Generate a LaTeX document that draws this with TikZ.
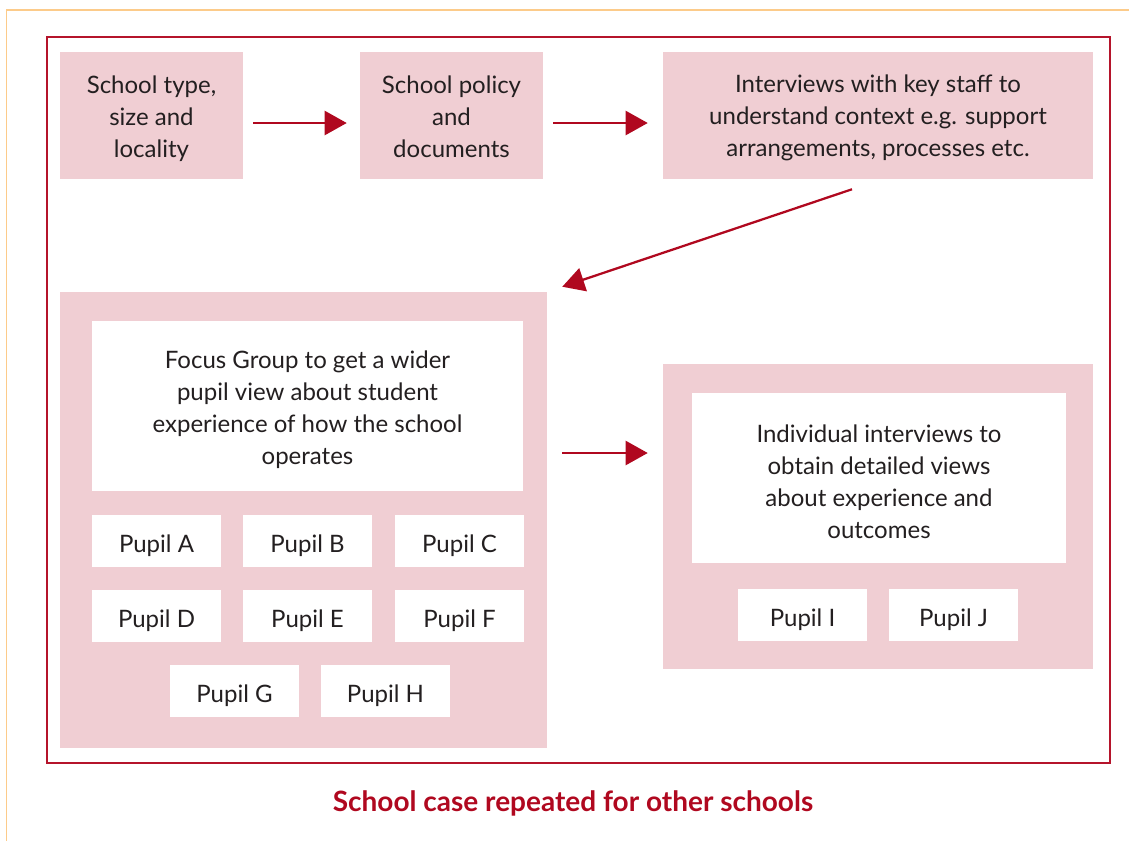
\documentclass[tikz,border=0pt]{standalone}
\usepackage{fontspec}
\setmainfont{Lato}
\usetikzlibrary{arrows.meta,calc}
\definecolor{pinkfill}{HTML}{F0CED3}
\definecolor{darkred}{HTML}{B0081F}
\definecolor{framered}{HTML}{B5142B}
\definecolor{orangeline}{HTML}{FCCB8A}
\definecolor{txt}{HTML}{231F20}
\tikzset{
  boxtext/.style={align=center, text=txt, font=\fontsize{18}{24}\selectfont, inner sep=0pt},
  pinkbox/.style={fill=pinkfill, draw=none, inner sep=0pt},
  whitebox/.style={fill=white, draw=none, inner sep=0pt},
  txt/.style 2 args={label={[boxtext, yshift=#1*0.75pt]center:{#2}}},
  pupil/.style={whitebox, minimum width=129*0.75pt, minimum height=52*0.75pt, txt={-5}{#1}},
  flow/.style={draw=darkred, line width=1.7pt, -{Triangle[length=16.5pt,width=18pt]}}
}
\begin{document}
\begin{tikzpicture}[x=0.75pt,y=-0.75pt]
\useasboundingbox (0,0) rectangle (1129,840);
% outer orange border
\draw[orangeline, line width=1.4pt] (6.5,845) -- (6.5,10) -- (1135,10);
% red frame
\node[draw=framered, line width=1.4pt, minimum width=1063*0.75pt, minimum height=726*0.75pt, inner sep=0pt] (frame) at (578.5,400) {};
% top row
\node[pinkbox, minimum width=183*0.75pt, minimum height=127*0.75pt, txt={-3}{School type,\\size and\\locality}] (b1) at (151.5,115.5) {};
\node[pinkbox, minimum width=183*0.75pt, minimum height=127*0.75pt, txt={-1}{School policy\\and\\documents}] (b2) at (451.5,115.5) {};
\node[pinkbox, minimum width=430*0.75pt, minimum height=127*0.75pt, txt={-2}{Interviews with key staff to\\understand context e.g. support\\arrangements, processes etc.}] (b3) at (878,115.5) {};
% big boxes
\node[pinkbox, minimum width=487*0.75pt, minimum height=456*0.75pt] (lb) at (303.5,520) {};
\node[pinkbox, minimum width=430*0.75pt, minimum height=305*0.75pt] (rb) at (878,516.5) {};
% focus group
\node[whitebox, minimum width=431*0.75pt, minimum height=170*0.75pt, txt={-3.5}{Focus Group to get a wider\\pupil view about student\\experience of how the school\\operates}] (fg) at (307.5,406) {};
\node[pupil={Pupil A}] (pa) at (156.5,541) {};
\node[pupil={Pupil B}] (pb) at (307.5,541) {};
\node[pupil={Pupil C}] (pc) at (459.5,541) {};
\node[pupil={Pupil D}] (pd) at (156.5,615.5) {};
\node[pupil={Pupil E}] (pe) at (307.5,615.5) {};
\node[pupil={Pupil F}] (pf) at (459.5,615.5) {};
\node[pupil={Pupil G}] (pg) at (234.5,690.5) {};
\node[pupil={Pupil H}] (ph) at (385.5,690.5) {};
% individual interviews
\node[whitebox, minimum width=374*0.75pt, minimum height=170*0.75pt, txt={-4}{Individual interviews to\\obtain detailed views\\about experience and\\outcomes}] (ii) at (879,478) {};
\node[pupil={Pupil I}] (pi) at (802.5,614.5) {};
\node[pupil={Pupil J}] (pj) at (953.5,614.5) {};
% arrows
\draw[flow] ($(b1.east)+(10,7.5)$) -- ($(b2.west)+(-13,7.5)$);
\draw[flow] ($(b2.east)+(10,7.5)$) -- ($(b3.west)+(-15,7.5)$);
\draw[flow] ($(b3.south)+(-26,10)$) -- ($(lb.north east)+(15,-5)$);
\draw[flow] ($(lb.east)+(15,-67)$) -- ($(rb.west)+(-15,-63.5)$);
% caption
\node[text=darkred, font=\fontsize{21}{25}\selectfont\bfseries] (cap) at (573,803) {School case repeated for other schools};
\end{tikzpicture}
\end{document}
